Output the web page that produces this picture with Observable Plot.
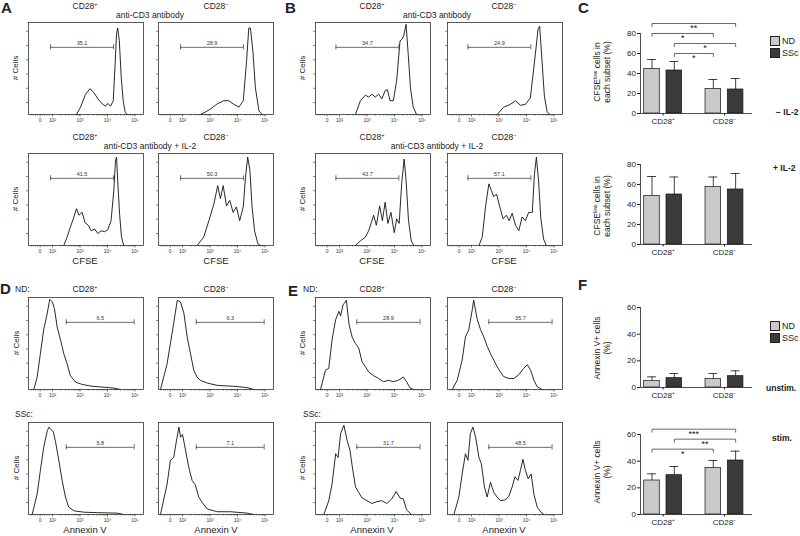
<!DOCTYPE html>
<html><head><meta charset="utf-8">
<script src="https://cdn.jsdelivr.net/npm/d3@7"></script>
<script src="https://cdn.jsdelivr.net/npm/@observablehq/plot@0.6"></script>
<style>
body{margin:0;background:#fff;}
#fig{position:relative;width:800px;height:536px;overflow:hidden;background:#fff;font-family:"Liberation Sans",Arial,Helvetica,sans-serif;color:#222;}
#fig svg{position:absolute;overflow:visible;}
.t{position:absolute;white-space:nowrap;line-height:1;}
.t sup{font-size:0.65em;vertical-align:0.5em;line-height:0;}
.sw{position:absolute;width:8px;height:8px;border:1px solid #222;}
</style></head><body><div id="fig"></div>
<script>
// ---------- histogram data: [position in decades (biexponential axis), relative count] ----------
const A_cd3_pos = [[2.87,0],[3.02,0.08],[3.2,0.22],[3.36,0.28],[3.5,0.24],[3.65,0.17],[3.81,0.115],[3.93,0.09],[4.01,0.12],[4.11,0.09],[4.21,0.15],[4.27,0.51],[4.33,0.88],[4.37,0.94],[4.43,0.8],[4.5,0.4],[4.57,0.15],[4.64,0.025],[4.72,0]];
const A_cd3_neg = [[2.65,0],[2.85,0.03],[3.02,0.06],[3.26,0.115],[3.5,0.15],[3.68,0.15],[3.87,0.11],[4.05,0.08],[4.21,0.15],[4.33,0.58],[4.41,0.94],[4.47,0.94],[4.56,0.69],[4.65,0.29],[4.78,0.04],[4.9,0]];
const A_il2_pos = [[2.41,0],[2.53,0.09],[2.65,0.2],[2.78,0.31],[2.87,0.4],[2.96,0.33],[3.08,0.36],[3.18,0.25],[3.3,0.22],[3.41,0.16],[3.53,0.18],[3.65,0.13],[3.77,0.16],[3.89,0.15],[4.01,0.17],[4.13,0.27],[4.23,0.6],[4.29,0.92],[4.33,0.96],[4.37,0.71],[4.44,0.34],[4.51,0.09],[4.59,0]];
const A_il2_neg = [[2.53,0],[2.77,0.09],[2.96,0.27],[3.14,0.45],[3.28,0.65],[3.38,0.51],[3.48,0.65],[3.6,0.43],[3.72,0.49],[3.84,0.36],[3.96,0.42],[4.08,0.27],[4.21,0.42],[4.29,0.74],[4.37,0.96],[4.45,0.82],[4.53,0.42],[4.62,0.16],[4.74,0.02],[4.84,0]];
const B_cd3_pos = [[2.58,0],[2.76,0.15],[2.94,0.21],[3.06,0.19],[3.18,0.22],[3.3,0.19],[3.42,0.22],[3.54,0.17],[3.66,0.26],[3.74,0.27],[3.84,0.15],[3.96,0.15],[4.08,0.37],[4.2,0.8],[4.28,0.82],[4.34,0.86],[4.42,0.98],[4.5,0.65],[4.58,0.29],[4.68,0.08],[4.8,0]];
const B_cd3_neg = [[2.93,0],[3.17,0.08],[3.41,0.11],[3.6,0.15],[3.78,0.1],[3.96,0.11],[4.14,0.18],[4.32,0.65],[4.42,0.93],[4.48,0.96],[4.56,0.6],[4.65,0.2],[4.75,0.03],[4.85,0]];
const B_il2_pos = [[2.58,0],[2.76,0.05],[2.94,0.09],[3.06,0.16],[3.16,0.25],[3.24,0.33],[3.34,0.22],[3.46,0.43],[3.56,0.27],[3.66,0.47],[3.76,0.24],[3.87,0.36],[3.99,0.14],[4.08,0.29],[4.17,0.24],[4.26,0.67],[4.35,0.94],[4.42,0.71],[4.51,0.27],[4.61,0.05],[4.7,0]];
const B_il2_neg = [[2.27,0],[2.39,0.09],[2.51,0.42],[2.63,0.67],[2.72,0.6],[2.81,0.53],[2.91,0.56],[3.03,0.42],[3.15,0.29],[3.27,0.33],[3.37,0.27],[3.48,0.35],[3.6,0.22],[3.72,0.16],[3.84,0.31],[3.96,0.27],[4.08,0.36],[4.21,0.36],[4.29,0.78],[4.36,0.96],[4.44,0.7],[4.52,0.3],[4.62,0.07],[4.72,0]];
const D_nd_pos = [[1.32,0],[1.44,0.13],[1.56,0.39],[1.68,0.65],[1.81,0.83],[1.9,0.98],[2.0,0.95],[2.07,0.88],[2.17,0.68],[2.29,0.54],[2.41,0.39],[2.53,0.28],[2.65,0.15],[2.84,0.08],[3.08,0.055],[3.44,0.035],[3.87,0.025],[4.23,0.015],[4.47,0]];
const D_nd_neg = [[1.2,0],[1.44,0.28],[1.56,0.5],[1.68,0.72],[1.81,0.97],[1.93,0.95],[2.05,0.83],[2.17,0.57],[2.29,0.39],[2.41,0.21],[2.53,0.135],[2.65,0.1],[2.9,0.07],[3.26,0.045],[3.87,0.035],[4.35,0.02],[4.59,0]];
const D_ssc_pos = [[1.26,0],[1.44,0.22],[1.56,0.48],[1.68,0.73],[1.81,0.91],[1.87,0.95],[1.95,0.92],[2.03,0.9],[2.11,0.79],[2.23,0.59],[2.35,0.37],[2.47,0.19],[2.59,0.08],[2.78,0.04],[3.14,0.025],[3.63,0.02],[4.35,0.015],[4.59,0]];
const D_ssc_neg = [[1.2,0],[1.44,0.33],[1.56,0.59],[1.68,0.62],[1.78,0.8],[1.87,0.95],[1.93,0.84],[2.0,0.87],[2.11,0.7],[2.23,0.51],[2.35,0.37],[2.47,0.32],[2.59,0.19],[2.72,0.13],[2.9,0.06],[3.26,0.03],[3.75,0.03],[4.35,0.015],[4.59,0]];
const E_nd_pos = [[1.31,0],[1.49,0.21],[1.61,0.23],[1.73,0.54],[1.86,0.76],[1.98,0.85],[2.04,0.8],[2.13,0.92],[2.25,0.97],[2.34,0.72],[2.46,0.57],[2.58,0.5],[2.7,0.45],[2.82,0.3],[2.94,0.25],[3.06,0.19],[3.24,0.15],[3.42,0.12],[3.6,0.085],[3.78,0.1],[3.96,0.085],[4.14,0.1],[4.32,0.135],[4.44,0.085],[4.56,0.02],[4.68,0]];
const E_nd_neg = [[1.3,0],[1.48,0.1],[1.66,0.32],[1.78,0.57],[1.9,0.65],[2.03,0.87],[2.08,0.97],[2.21,0.76],[2.33,0.65],[2.45,0.57],[2.57,0.47],[2.69,0.39],[2.81,0.32],[2.93,0.25],[3.05,0.19],[3.17,0.14],[3.36,0.12],[3.54,0.12],[3.72,0.16],[3.9,0.23],[4.03,0.27],[4.15,0.21],[4.27,0.1],[4.39,0.03],[4.57,0]];
const E_ssc_pos = [[1.43,0],[1.61,0.15],[1.73,0.33],[1.86,0.66],[1.95,0.62],[2.04,0.88],[2.16,0.97],[2.28,0.8],[2.38,0.7],[2.46,0.53],[2.58,0.3],[2.7,0.24],[2.82,0.18],[3.0,0.15],[3.18,0.12],[3.36,0.14],[3.54,0.15],[3.72,0.12],[3.9,0.17],[4.06,0.25],[4.2,0.18],[4.32,0.17],[4.44,0.05],[4.62,0]];
const E_ssc_neg = [[1.36,0],[1.54,0.19],[1.66,0.44],[1.78,0.66],[1.87,0.59],[1.96,0.88],[2.05,0.95],[2.15,0.84],[2.27,0.62],[2.36,0.55],[2.47,0.3],[2.57,0.19],[2.69,0.35],[2.81,0.24],[2.93,0.19],[3.05,0.15],[3.24,0.16],[3.36,0.2],[3.48,0.3],[3.58,0.41],[3.69,0.37],[3.78,0.48],[3.87,0.6],[3.96,0.48],[4.06,0.39],[4.17,0.44],[4.27,0.22],[4.39,0.08],[4.51,0.03],[4.63,0]];

// gates [start, end] and gate percentages
const gateA = [1.93, 4.22], gateB = [1.87, 4.16], gateD = [2.5, 4.97], gateE = [2.63, 4.93];
const gateLabelsA = ["35.1", "28.9", "41.5", "50.3"];
const gateLabelsB = ["34.7", "24.9", "43.7", "57.1"];
const gateLabelsD = ["6.5", "6.3", "5.8", "7.1"];
const gateLabelsE = ["28.9", "35.7", "31.7", "48.5"];

// axis tick labels
const majorTicks = [1.55, 2, 3, 4, 5];
const majorLabels = ["0", "10²", "10³", "10⁴", "10⁵"];
const linearMinor = [1.22, 1.3, 1.38, 1.46, 1.64, 1.72, 1.8, 1.88];

// ---------- bar chart data (order: CD28+ ND, CD28+ SSc, CD28− ND, CD28− SSc) ----------
const barGroups = ["CD28⁺", "CD28⁻"];
const barSeries = ["ND", "SSc"];
const cMinusIL2 = [44.5, 43, 24.5, 24];
const cMinusIL2Err = [54, 52, 34, 35];
const cPlusIL2 = [48.5, 50, 57.5, 55];
const cPlusIL2Err = [68, 67.5, 67.5, 71];
const fUnstim = [5, 7, 6.5, 8.5];
const fUnstimErr = [8, 10.5, 10.5, 12.5];
const fStim = [25.5, 29.5, 35, 40.5];
const fStimErr = [30.5, 36, 40.5, 47.5];
// significance brackets: [from bar, to bar, height, label]
const cMinusBrackets = [[0, 3, 90, "**"], [0, 2, 80, "*"], [1, 3, 70, "*"], [1, 2, 60, "*"]];
const fStimBrackets = [[0, 3, 64, "***"], [1, 3, 56.5, "**"], [0, 2, 49, "*"]];

// ---------- layout ----------
const fig = document.getElementById("fig");
const FONT = '"Liberation Sans",Arial,Helvetica,sans-serif';
const HW = 115, HH = 92, DEC = 27.5;
const U_LO = 2 - 24 / DEC, U_HI = U_LO + HW / DEC;
const logMinor = d3.range(2, 5).flatMap(k => d3.range(2, 10).map(m => k + Math.log10(m)));
const yTickFr = [0.13, 0.285, 0.44, 0.595, 0.75, 0.905];
const GATE_Y = 0.73;

function histogram(points, gate, gateLabel, left, top) {
  const mL = 6, mR = 6, mT = 4, mB = 11;
  const svg = Plot.plot({
    width: HW + mL + mR, height: HH + mT + mB,
    marginLeft: mL, marginRight: mR, marginTop: mT, marginBottom: mB,
    x: {domain: [U_LO, U_HI], label: null},
    y: {domain: [0, 1], label: null},
    style: {fontFamily: FONT, fontSize: "5px", color: "#333", background: "none", overflow: "visible"},
    marks: [
      Plot.axisX(linearMinor.concat(logMinor), {tickSize: 1.5, tickFormat: () => "", strokeWidth: 0.6}),
      Plot.axisX(majorTicks, {tickSize: 2.5, tickPadding: 1, tickFormat: d => majorLabels[majorTicks.indexOf(d)], fontSize: 5, strokeWidth: 0.7}),
      Plot.axisY(yTickFr, {tickSize: 2, tickFormat: () => "", strokeWidth: 0.6}),
      Plot.line(points, {x: d => d[0], y: d => d[1], stroke: "#111", strokeWidth: 0.9}),
      Plot.frame({stroke: "#333", strokeWidth: 0.8}),
      Plot.ruleY([{y: GATE_Y, a: gate[0], b: gate[1]}], {y: "y", x1: "a", x2: "b", stroke: "#444", strokeWidth: 0.8}),
      Plot.ruleX(gate, {x: d => d, y1: () => GATE_Y - 0.028, y2: () => GATE_Y + 0.028, stroke: "#444", strokeWidth: 0.8}),
      Plot.text([gateLabel], {x: () => (gate[0] + gate[1]) / 2, y: () => GATE_Y, text: d => d, dy: -4, fontSize: 5.5, fill: "#333"})
    ]
  });
  svg.style.left = (left - mL) + "px";
  svg.style.top = (top - mT) + "px";
  fig.append(svg);
}

// panel A
histogram(A_cd3_pos, gateA, gateLabelsA[0], 28, 22);
histogram(A_cd3_neg, gateA, gateLabelsA[1], 158, 22);
histogram(A_il2_pos, gateA, gateLabelsA[2], 28, 153);
histogram(A_il2_neg, gateA, gateLabelsA[3], 158, 153);
// panel B
histogram(B_cd3_pos, gateB, gateLabelsB[0], 315, 22);
histogram(B_cd3_neg, gateB, gateLabelsB[1], 447, 22);
histogram(B_il2_pos, gateB, gateLabelsB[2], 315, 153);
histogram(B_il2_neg, gateB, gateLabelsB[3], 447, 153);
// panel D
histogram(D_nd_pos, gateD, gateLabelsD[0], 28, 297);
histogram(D_nd_neg, gateD, gateLabelsD[1], 158, 297);
histogram(D_ssc_pos, gateD, gateLabelsD[2], 28, 422);
histogram(D_ssc_neg, gateD, gateLabelsD[3], 158, 422);
// panel E
histogram(E_nd_pos, gateE, gateLabelsE[0], 315, 297);
histogram(E_nd_neg, gateE, gateLabelsE[1], 447, 297);
histogram(E_ssc_pos, gateE, gateLabelsE[2], 315, 422);
histogram(E_ssc_neg, gateE, gateLabelsE[3], 447, 422);

// ---------- bar charts ----------
const GROUP_STEP = 2.75, SLOT_PX = 22.3;
const X_LO = (640 - 651.5) / SLOT_PX, X_HI = (752 - 651.5) / SLOT_PX;
const seriesColors = ["#c9c9c9", "#3b3b3b"];

function barChart(vals, errs, brackets, yMax, yTicks, svgTop, svgH, y0, ppu) {
  const rows = vals.map((v, i) => ({g: Math.floor(i / 2), s: i % 2, v, e: errs[i], pos: Math.floor(i / 2) * GROUP_STEP + (i % 2)}));
  const centers = barGroups.map((g, i) => i * GROUP_STEP + 0.5);
  const drop = 3 / ppu;
  const bpts = [];
  brackets.forEach((b, k) => {
    const x1 = rows[b[0]].pos, x2 = rows[b[1]].pos;
    bpts.push({k, x: x1, y: b[2] - drop}, {k, x: x1, y: b[2]}, {k, x: x2, y: b[2]}, {k, x: x2, y: b[2] - drop});
  });
  const mT = y0 - yMax * ppu - svgTop;
  const mB = svgTop + svgH - y0;
  const svgLeft = 600;
  const svg = Plot.plot({
    width: 160, height: svgH, marginLeft: 640 - svgLeft, marginRight: 760 - 752, marginTop: mT, marginBottom: mB,
    x: {domain: [X_LO, X_HI], label: null},
    y: {domain: [0, yMax], label: null},
    style: {fontFamily: FONT, fontSize: "8px", color: "#222", background: "none", overflow: "visible"},
    marks: [
      Plot.rect(rows, {x1: d => d.pos - 0.35, x2: d => d.pos + 0.35, y1: () => 0, y2: "v", fill: d => seriesColors[d.s], stroke: "#111", strokeWidth: 0.7}),
      Plot.ruleX(rows, {x: "pos", y1: "v", y2: "e", stroke: "#111", strokeWidth: 0.8}),
      Plot.ruleY(rows, {y: "e", x1: d => d.pos - 0.2, x2: d => d.pos + 0.2, stroke: "#111", strokeWidth: 0.8}),
      Plot.ruleY([0], {stroke: "#222", strokeWidth: 0.8}),
      Plot.ruleX([X_LO], {y1: () => 0, y2: () => yMax, stroke: "#222", strokeWidth: 0.8}),
      Plot.axisY(yTicks, {tickSize: 3, tickPadding: 1.5, fontSize: 8}),
      Plot.axisX(centers, {tickSize: 2.5, tickPadding: 2, tickFormat: d => barGroups[centers.indexOf(d)], fontSize: 8}),
      Plot.line(bpts, {x: "x", y: "y", z: "k", stroke: "#444", strokeWidth: 0.8}),
      Plot.text(brackets, {x: b => (rows[b[0]].pos + rows[b[1]].pos) / 2, y: b => b[2], text: b => b[3], dy: 5, fontSize: 9, fill: "#111"})
    ]
  });
  svg.style.left = svgLeft + "px";
  svg.style.top = svgTop + "px";
  fig.append(svg);
}

barChart(cMinusIL2, cMinusIL2Err, cMinusBrackets, 80, [0, 20, 40, 60, 80], 10, 122, 113, 1);
barChart(cPlusIL2, cPlusIL2Err, [], 80, [0, 20, 40, 60, 80], 150, 112, 244, 1);
barChart(fUnstim, fUnstimErr, [], 60, [0, 20, 40, 60], 296, 110, 387, 4 / 3);
barChart(fStim, fStimErr, fStimBrackets, 60, [0, 20, 40, 60], 418, 118, 514, 4 / 3);

// ---------- text ----------
function txt(html, x, y, o = {}) {
  const d = document.createElement("div");
  d.className = "t";
  d.innerHTML = html;
  const size = o.size || 8;
  d.style.fontSize = size + "px";
  if (o.bold) d.style.fontWeight = "bold";
  if (o.lh) d.style.lineHeight = o.lh;
  if (o.center) d.style.textAlign = "center";
  d.style.left = x + "px";
  d.style.top = y + "px";
  const ax = o.anchor === "start" ? "0" : o.anchor === "end" ? "-100%" : "-50%";
  d.style.transform = `translate(${ax},-50%)` + (o.rotate ? ` rotate(${o.rotate}deg)` : "");
  if (o.rotate) { d.style.transform = `translate(-50%,-50%) rotate(${o.rotate}deg)`; }
  fig.append(d);
}
// panel letters
txt("A", 1, 7, {size: 15, bold: true, anchor: "start"});
txt("B", 285, 7, {size: 15, bold: true, anchor: "start"});
txt("C", 578, 7, {size: 15, bold: true, anchor: "start"});
txt("D", 0, 288, {size: 15, bold: true, anchor: "start"});
txt("E", 288, 290, {size: 15, bold: true, anchor: "start"});
txt("F", 578, 284, {size: 15, bold: true, anchor: "start"});
// A/B headers
for (const [l, r, c] of [[85, 216, 150], [372, 504, 437]]) {
  txt("CD28<sup>+</sup>", l, 6, {size: 8.5});
  txt("CD28<sup>−</sup>", r, 6, {size: 8.5});
  txt("anti-CD3 antibody", c, 15, {size: 8.5});
  txt("CD28<sup>+</sup>", l, 137, {size: 8.5});
  txt("CD28<sup>−</sup>", r, 137, {size: 8.5});
  txt("anti-CD3 antibody + IL-2", c, 146, {size: 8.5});
  txt("CFSE", l, 261, {size: 9.5});
  txt("CFSE", r, 261, {size: 9.5});
}
// D/E headers
for (const [l, r, n] of [[85, 216, 15], [372, 504, 303]]) {
  txt("ND:", n, 289, {size: 8.5, anchor: "start"});
  txt("CD28<sup>+</sup>", l, 289, {size: 8.5});
  txt("CD28<sup>−</sup>", r, 289, {size: 8.5});
  txt("SSc:", n, 414, {size: 8.5, anchor: "start"});
  txt("Annexin V", l, 530, {size: 9.5});
  txt("Annexin V", r, 530, {size: 9.5});
}
// # Cells
for (const [x, y] of [[16, 68], [16, 199], [303, 68], [303, 199], [17, 343], [17, 468], [303, 343], [303, 468]]) {
  txt("# Cells", x, y, {size: 8, rotate: -90});
}
// bar chart y titles
txt("CFSE<sup>low</sup> cells in<br>each subset (%)", 603, 72, {size: 8.5, rotate: -90, lh: "1.15", center: true});
txt("CFSE<sup>low</sup> cells in<br>each subset (%)", 603, 206, {size: 8.5, rotate: -90, lh: "1.15", center: true});
txt("Annexin V+ cells<br>(%)", 603, 348, {size: 8.5, rotate: -90, lh: "1.15", center: true});
txt("Annexin V+ cells<br>(%)", 603, 472, {size: 8.5, rotate: -90, lh: "1.15", center: true});
// condition labels
txt("− IL-2", 776, 112, {size: 8.5, bold: true, anchor: "start"});
txt("+ IL-2", 773, 168, {size: 8.5, bold: true, anchor: "start"});
txt("unstim.", 766, 388, {size: 8.5, bold: true, anchor: "start"});
txt("stim.", 772, 438, {size: 8.5, bold: true, anchor: "start"});
// legends
function swatchLegend(top) {
  barSeries.forEach((s, i) => {
    const b = document.createElement("div");
    b.className = "sw";
    b.style.left = "770px";
    b.style.top = (top + i * 11.5) + "px";
    b.style.background = seriesColors[i];
    fig.append(b);
    txt(s, 782, top + i * 11.5 + 5, {size: 9, anchor: "start"});
  });
}
swatchLegend(36);
swatchLegend(321);
</script></body></html>
